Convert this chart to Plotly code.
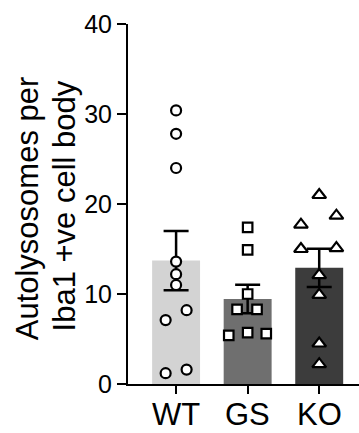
import numpy as np
import plotly.graph_objects as go

groups = ["WT", "GS", "KO"]
wt_vals = [30.4, 27.8, 24.0, 13.6, 12.2, 11.0, 8.2, 7.1, 1.2, 1.6]
gs_vals = [17.4, 14.9, 10.0, 8.3, 8.3, 5.7, 5.6, 5.4]
ko_vals = [21.0, 18.7, 17.7, 15.0, 15.1, 12.1, 9.9, 4.5, 2.2]
y_ticks = [0, 10, 20, 30, 40]
y_title_lines = ["Autolysosomes per", "Iba1 +ve cell body"]

# horizontal spread of the dots (category units), same order as values
wt_spread = [0, 0, 0, 0, 0, 0, 0.147, -0.146, -0.146, 0.147]
gs_spread = [0, 0, 0, -0.148, 0.131, 0, 0.26, -0.264]
ko_spread = [0, 0.24, -0.255, -0.255, 0.24, 0, 0, 0, 0]

all_vals = [wt_vals, gs_vals, ko_vals]
spreads = [wt_spread, gs_spread, ko_spread]
means = [float(np.mean(v)) for v in all_vals]
sems = [float(np.std(v, ddof=1) / np.sqrt(len(v))) for v in all_vals]

bar_colors = ["#d3d3d3", "#6f6f6f", "#3c3c3c"]
symbols = ["circle", "square", "triangle-up"]
sizes = [10, 9.5, 12]

fig = go.Figure()
fig.add_trace(go.Bar(
    x=[0, 1, 2], y=means, width=0.67,
    marker=dict(color=bar_colors, line=dict(width=0)),
    error_y=dict(type="data", array=sems, visible=True, color="black",
                 thickness=2.5, width=12.5),
    showlegend=False,
))
for i, (vals, sp) in enumerate(zip(all_vals, spreads)):
    fig.add_trace(go.Scatter(
        x=[i + s for s in sp], y=vals, mode="markers",
        marker=dict(symbol=symbols[i], size=sizes[i], color="white",
                    line=dict(color="black", width=2.2)),
        showlegend=False, cliponaxis=False,
    ))

font = "Liberation Sans, Arial, sans-serif"
title_pos = [(-0.4315, 0.489), (-0.273, 0.4958)]
annotations = [dict(text=t, textangle=-90, xref="paper", yref="paper",
                    x=p[0], y=p[1], xanchor="center", yanchor="middle",
                    showarrow=False, font=dict(size=31, family=font))
               for t, p in zip(y_title_lines, title_pos)]
annotations += [dict(text=g, xref="x", yref="paper", x=i, y=0,
                     xanchor="center", yanchor="top", yshift=-11,
                     showarrow=False, font=dict(size=31, family=font))
                for i, g in enumerate(groups)]

fig.update_layout(
    width=359, height=433,
    margin=dict(l=127.5, r=0, t=24, b=49, autoexpand=False),
    plot_bgcolor="white", paper_bgcolor="white",
    font=dict(family=font, color="black"),
    xaxis=dict(range=[-0.672, 2.556], tickvals=[0, 1, 2], showticklabels=False,
               showline=True, linecolor="black", linewidth=2,
               ticks="outside", ticklen=8, tickwidth=1.5, tickcolor="black",
               showgrid=False, zeroline=False, automargin=False),
    yaxis=dict(range=[0, 40], tickvals=y_ticks,
               showline=True, linecolor="black", linewidth=2,
               ticks="outside", ticklen=9, tickwidth=1.5, tickcolor="black",
               tickfont=dict(size=25, family=font), showgrid=False, zeroline=False,
               automargin=False),
    annotations=annotations,
)
fig.write_html("out.html")
